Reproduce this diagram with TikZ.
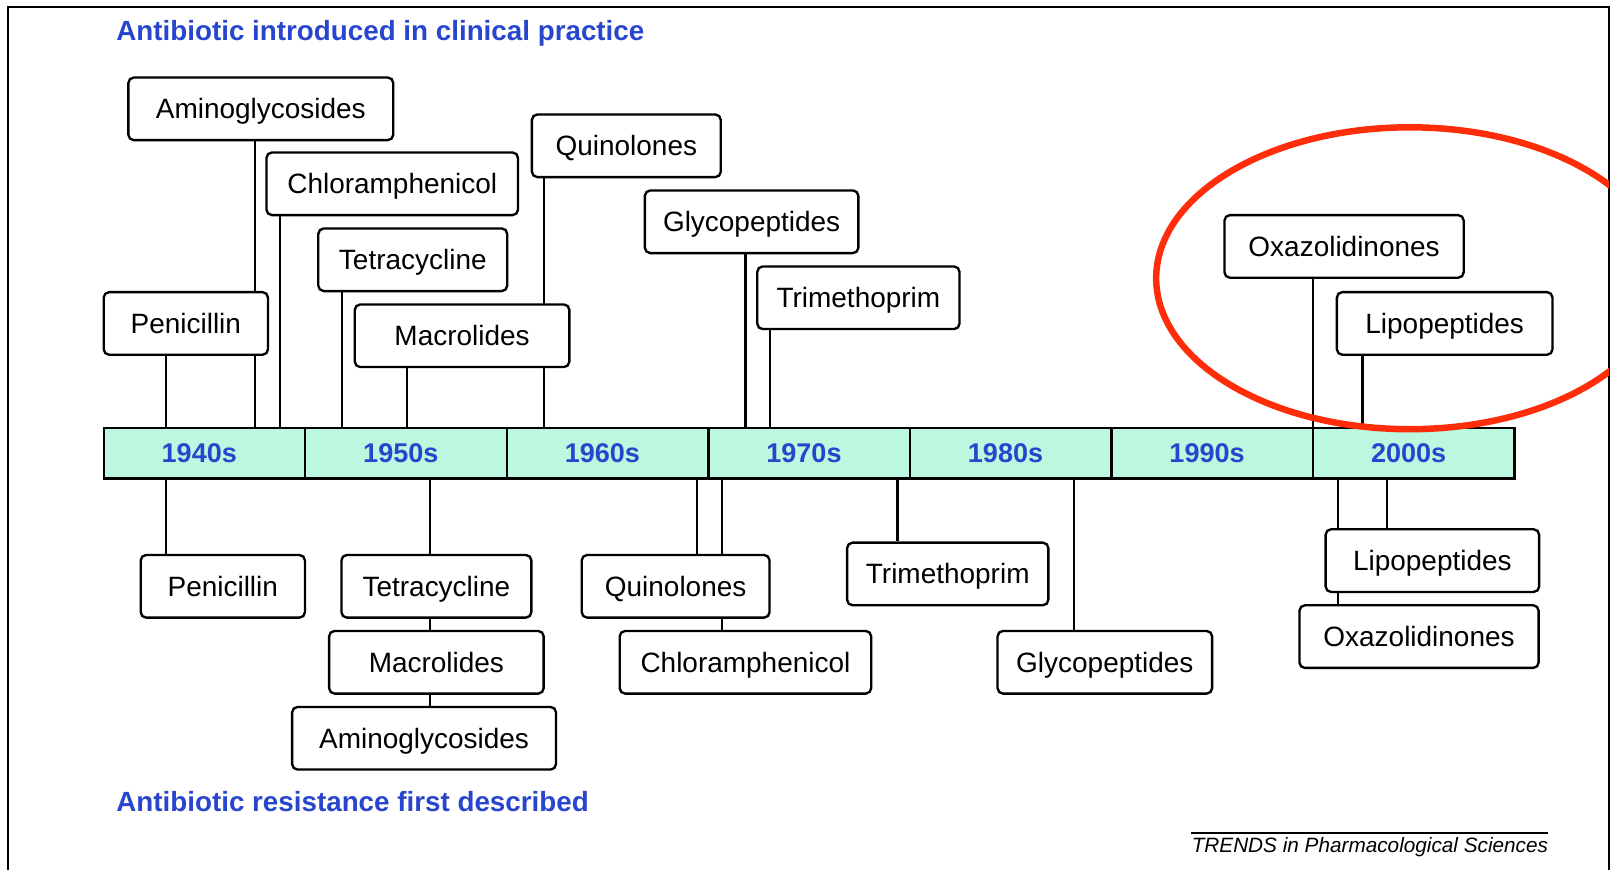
\documentclass[tikz,border=0pt]{standalone}
\usepackage{fontspec}
\setmainfont{Liberation Sans}
\usetikzlibrary{backgrounds}
\definecolor{barfill}{RGB}{188,248,224}
\definecolor{decblue}{RGB}{40,70,205}
\definecolor{ringred}{RGB}{255,45,10}
\tikzset{
  drug/.style={draw, rounded corners=3pt, line width=1.3pt, fill=white,
    minimum height=1.22cm, inner xsep=0pt, text height=11pt, text depth=0pt,
    font=\fontsize{15.5}{18}\selectfont},
  decade/.style={draw, line width=1.3pt, fill=barfill, minimum width=3.926cm,
    minimum height=0.98cm, inner sep=0pt, text=decblue,
    font=\bfseries\fontsize{15}{18}\selectfont},
  stem/.style={line width=1.2pt},
  heading/.style={anchor=west, inner sep=0pt, text=decblue,
    font=\bfseries\fontsize{15.4}{18}\selectfont}
}

\begin{document}
\begin{tikzpicture}[x=0.02cm, y=-0.02cm]
  \useasboundingbox (0,0) rectangle (1568,847);
  \draw[line width=0.8pt] (8,847) -- (8,7) -- (1567,7) -- (1567,847);

  \node (introduced) [heading] at (113,32) {Antibiotic introduced in clinical practice};
  \node (resistance) [heading] at (113,781) {Antibiotic resistance first described};

  % time line
  \foreach \yr [count=\i from 0] in {1940,1950,...,2000}
    \node (d\yr) [decade] at (199.1+196.3*\i,441.5) {\hspace*{-0.2cm}\yr s};

  % introduced
  \node (inpen) [drug, minimum width=3.2cm] at (181,315) {Penicillin};
  \node (inami) [drug, minimum width=5.16cm] at (254,106) {Aminoglycosides};
  \node (inchl) [drug, minimum width=4.9cm] at (382,179) {Chloramphenicol};
  \node (intet) [drug, minimum width=3.68cm] at (402,253) {Tetracycline};
  \node (inmac) [drug, minimum width=4.18cm] at (450,327) {Macrolides};
  \node (inqui) [drug, minimum width=3.68cm] at (610,142) {Quinolones};
  \node (ingly) [drug, minimum width=4.16cm] at (732,216) {Glycopeptides};
  \node (intri) [drug, minimum width=3.94cm] at (836,290) {Trimethoprim};
  \node (inoxa) [drug, minimum width=4.66cm] at (1309,240) {Oxazolidinones};
  \node (inlip) [drug, minimum width=4.2cm] at (1407,315) {Lipopeptides};

  % resistance
  \node (rspen) [drug, minimum width=3.2cm] at (217,571) {Penicillin};
  \node (rstet) [drug, minimum width=3.7cm] at (425,571) {Tetracycline};
  \node (rsmac) [drug, minimum width=4.18cm] at (425,645) {Macrolides};
  \node (rsami) [drug, minimum width=5.14cm] at (413,719) {Aminoglycosides};
  \node (rsqui) [drug, minimum width=3.66cm] at (658,571) {Quinolones};
  \node (rschl) [drug, minimum width=4.9cm] at (726,645) {Chloramphenicol};
  \node (rstri) [drug, minimum width=3.92cm] at (923,559) {Trimethoprim};
  \node (rsgly) [drug, minimum width=4.18cm] at (1076,645) {Glycopeptides};
  \node (rslip) [drug, minimum width=4.16cm] at (1395,546) {Lipopeptides};
  \node (rsoxa) [drug, minimum width=4.66cm] at (1382,620) {Oxazolidinones};

  \begin{scope}[on background layer]
    \draw[stem] (inpen.south -| 162,0) -- (d1940.north -| 162,0);
    \draw[stem] (inami.south -| 248,0) -- (d1940.north -| 248,0);
    \draw[stem] (inchl.south -| 273,0) -- (d1940.north -| 273,0);
    \draw[stem] (intet.south -| 333,0) -- (d1950.north -| 333,0);
    \draw[stem] (inmac.south -| 396,0) -- (d1950.north -| 396,0);
    \draw[stem] (inqui.south -| 530,0) -- (d1960.north -| 530,0);
    \draw[stem] (ingly.south -| 726,0) -- (d1970.north -| 726,0);
    \draw[stem] (intri.south -| 750,0) -- (d1970.north -| 750,0);
    \draw[stem] (inoxa.south -| 1279,0) -- (d2000.north -| 1279,0);
    \draw[stem] (inlip.south -| 1327,0) -- (d2000.north -| 1327,0);
    \draw[stem] (d1940.south -| 162,0) -- (rspen.north -| 162,0);
    \draw[stem] (d1950.south -| 419,0) -- (rsami.north -| 419,0);
    \draw[stem] (d1960.south -| 679,0) -- (rsqui.north -| 679,0);
    \draw[stem] (d1970.south -| 703,0) -- (rschl.north -| 703,0);
    \draw[stem] (d1970.south -| 874,0) -- (rstri.north -| 874,0);
    \draw[stem] (d1980.south -| 1046,0) -- (rsgly.north -| 1046,0);
    \draw[stem] (d2000.south -| 1303,0) -- (rsoxa.north -| 1303,0);
    \draw[stem] (d2000.south -| 1351,0) -- (rslip.north -| 1351,0);
  \end{scope}

  \begin{scope}
    \clip (8,7) rectangle (1567,847);
    \draw[ringred, line width=3.6pt] (1373,271) ellipse [x radius=247, y radius=147];
  \end{scope}

  \node (trends) [anchor=east, inner sep=0pt, font=\itshape\fontsize{11.5}{14}\selectfont]
    at (1508,825) {TRENDS in Pharmacological Sciences};
  \draw[line width=1pt] ([yshift=0.08cm]trends.north west) -- ([yshift=0.08cm]trends.north east);
\end{tikzpicture}
\end{document}
